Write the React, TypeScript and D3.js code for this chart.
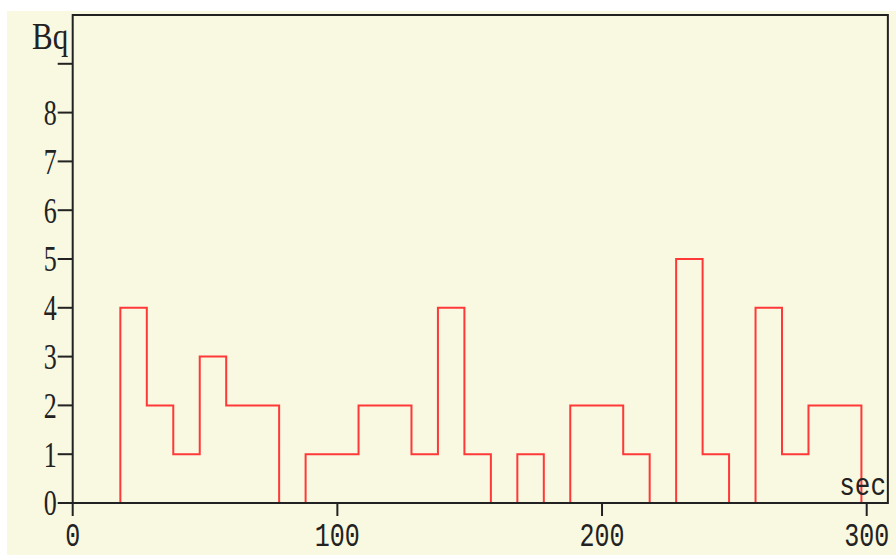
import React, { useEffect, useRef } from 'react';
import * as d3 from 'd3';

// bin left edges (sec) and counts (Bq)
const binStarts = [18, 28, 38, 48, 58, 68, 78, 88, 98, 108, 118, 128, 138, 148, 158, 168, 178, 188, 198, 208, 218, 228, 238, 248, 258, 268, 278, 288];
const counts = [4, 2, 1, 3, 2, 2, 0, 1, 1, 2, 2, 1, 4, 1, 0, 1, 0, 2, 2, 1, 0, 5, 1, 0, 4, 1, 2, 2];
const binEnd = 298;
const yTicks = [0, 1, 2, 3, 4, 5, 6, 7, 8, 9];
const yLabels = ['0', '1', '2', '3', '4', '5', '6', '7', '8', ''];
const xTicks = [0, 100, 200, 300];
const xLabels = ['0', '100', '200', '300'];

export default function App() {
  const svgRef = useRef<SVGSVGElement>(null);

  useEffect(() => {
    const width = 896;
    const height = 555;
    const svg = d3.select(svgRef.current).attr('width', width).attr('height', height);
    svg.selectAll('*').remove();

    const x = d3.scaleLinear().domain([0, 300]).range([72.7, 866.7]);
    const y = d3.scaleLinear().domain([0, 10]).range([503, 15]);

    // background
    svg.append('rect').attr('x', 7).attr('y', 11).attr('width', width - 7).attr('height', height - 11).attr('fill', '#f9f8e0');

    // histogram outline
    const pts: [number, number][] = [[binStarts[0], 0]];
    binStarts.forEach((s, i) => pts.push([s, counts[i]]));
    pts.push([binEnd, counts[counts.length - 1]]);
    pts.push([binEnd, 0]);
    const line = d3
      .line<[number, number]>()
      .x((d) => x(d[0]))
      .y((d) => y(d[1]))
      .curve(d3.curveStepAfter);
    svg.append('path').attr('d', line(pts)).attr('fill', 'none').attr('stroke', '#ff3838').attr('stroke-width', 2);

    // frame
    const x0 = x(0);
    const x1 = x(308);
    const y0 = y(0);
    const y1 = y(10);
    svg
      .append('path')
      .attr('d', `M${x0},${y0}V${y1}H${x1}V${y0}Z`)
      .attr('fill', 'none')
      .attr('stroke', '#222')
      .attr('stroke-width', 2);

    // y ticks
    const gy = svg.append('g');
    yTicks.forEach((t, i) => {
      gy.append('line').attr('x1', x0 - 15).attr('x2', x0).attr('y1', y(t)).attr('y2', y(t)).attr('stroke', '#222').attr('stroke-width', 2);
      gy.append('text')
        .attr('transform', `translate(${x0 - 16},${y(t)}) scale(1,1.4)`)
        .attr('text-anchor', 'end')
        .attr('dy', '0.34em')
        .attr('font-family', 'Liberation Serif')
        .attr('font-size', 26)
        .attr('fill', '#222')
        .text(yLabels[i]);
    });

    // x ticks
    const gx = svg.append('g');
    xTicks.forEach((t, i) => {
      gx.append('line').attr('x1', x(t)).attr('x2', x(t)).attr('y1', y0).attr('y2', y0 + 13).attr('stroke', '#222').attr('stroke-width', 2);
      gx.append('text')
        .attr('transform', `translate(${x(t)},${y0 + 43}) scale(1,1.3)`)
        .attr('text-anchor', 'middle')
        .attr('font-family', 'Liberation Mono')
        .attr('font-size', 25)
        .attr('fill', '#222')
        .text(xLabels[i]);
    });

    // axis titles
    svg
      .append('text')
      .attr('transform', `translate(32,49) scale(1,1.2)`)
      .attr('font-family', 'Liberation Serif')
      .attr('font-size', 31)
      .attr('fill', '#222')
      .text('Bq');
    svg
      .append('text')
      .attr('transform', `translate(886,495) scale(1,1.2)`)
      .attr('text-anchor', 'end')
      .attr('font-family', 'Liberation Mono')
      .attr('font-size', 26)
      .attr('fill', '#222')
      .text('sec');
  }, []);

  return <svg ref={svgRef} style={{ position: 'absolute', left: 0, top: 0, display: 'block' }}></svg>;
}
